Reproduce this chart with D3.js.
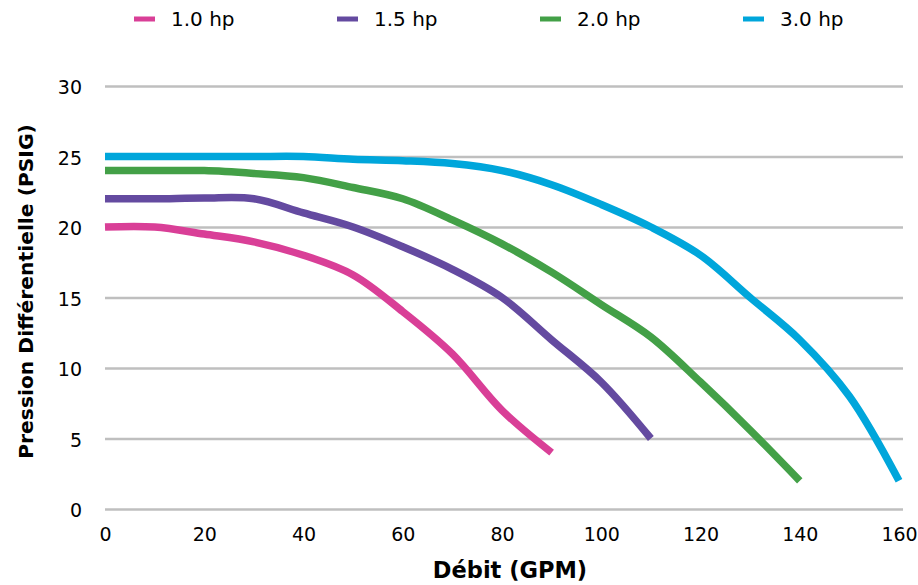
<!DOCTYPE html>
<html><head><meta charset="utf-8">
<script src="https://cdn.jsdelivr.net/npm/d3@7"></script>
<style>html,body{margin:0;padding:0;background:#fff;}svg{display:block;}</style>
</head><body>
<svg id="chart" width="918" height="585"></svg>
<script>
const seriesNames = ["1.0 hp", "1.5 hp", "2.0 hp", "3.0 hp"];
const seriesColors = ["#D93F97", "#644AA0", "#43A047", "#00A6DB"];
const flow10 = [0, 10, 20, 30, 40, 50, 60, 70, 80, 90];
const pressure10 = [20, 20, 19.5, 18.95, 18, 16.6, 14, 11, 7, 4];
const flow15 = [0, 10, 20, 30, 40, 50, 60, 70, 80, 90, 100, 110];
const pressure15 = [22, 22, 22.05, 22, 21, 20, 18.6, 17, 15, 12, 9, 5];
const flow20 = [0, 10, 20, 30, 40, 50, 60, 70, 80, 90, 100, 110, 120, 130, 140];
const pressure20 = [24, 24, 24, 23.8, 23.5, 22.8, 22, 20.5, 18.8, 16.8, 14.5, 12.2, 9, 5.6, 2];
const flow30 = [0, 10, 20, 30, 40, 50, 60, 70, 80, 90, 100, 110, 120, 130, 140, 150, 160];
const pressure30 = [25, 25, 25, 25, 25, 24.8, 24.7, 24.5, 24, 23, 21.6, 20, 18, 15, 12, 8, 2];
const xTicks = [0, 20, 40, 60, 80, 100, 120, 140, 160];
const yTicks = [0, 5, 10, 15, 20, 25, 30];
const xTitle = "Débit (GPM)";
const yTitle = "Pression Différentielle (PSIG)";

const flows = [flow10, flow15, flow20, flow30];
const pressures = [pressure10, pressure15, pressure20, pressure30];
const series = seriesNames.map((n, i) => ({name: n, color: seriesColors[i],
  pts: flows[i].map((f, j) => [f, pressures[i][j]])}));

const svg = d3.select("#chart");
const L = 105, R = 899, T = 86, B = 509;
const x = d3.scaleLinear().domain([0, 160]).range([L, R]);
const y = d3.scaleLinear().domain([0, 30]).range([B, T]);
const tickFont = "'DejaVu Sans', Verdana, sans-serif";

// gridlines + y tick labels
const gy = svg.append("g").attr("transform", `translate(${L},0)`)
  .call(d3.axisLeft(y).tickValues(yTicks).tickSize(-(R - L + 4)).tickPadding(22).tickFormat(d3.format("d")));
gy.select(".domain").remove();
gy.selectAll(".tick line").attr("stroke", "#BFBFBF").attr("stroke-width", 2.5);
gy.selectAll(".tick text").attr("x", -23).attr("dy", "0.4em").attr("text-anchor", "end")
  .attr("font-family", tickFont).attr("font-size", 19).attr("fill", "#000");

const gx = svg.append("g").attr("transform", `translate(0,${B})`)
  .call(d3.axisBottom(x).tickValues(xTicks).tickSize(0).tickPadding(17).tickFormat(d3.format("d")));
gx.select(".domain").remove();
gx.selectAll(".tick text").attr("y", 32).attr("dy", 0)
  .attr("font-family", tickFont).attr("font-size", 19).attr("fill", "#000");

// lines
const line = d3.line().x(d => x(d[0])).y(d => y(d[1])).curve(d3.curveCatmullRom.alpha(0.5));
svg.append("g").selectAll("path").data(series).join("path")
  .attr("d", d => line(d.pts)).attr("fill", "none")
  .attr("stroke", d => d.color).attr("stroke-width", 7.5).attr("stroke-linejoin", "round");

// axis titles
svg.append("text").attr("x", 510).attr("y", 578).attr("text-anchor", "middle")
  .attr("font-family", "'DejaVu Sans', Verdana, sans-serif").attr("font-weight", "bold")
  .attr("font-size", 22.5).text(xTitle);
svg.append("text").attr("transform", `translate(33,291.5) rotate(-90)`)
  .attr("text-anchor", "middle")
  .attr("font-family", "'DejaVu Sans', Verdana, sans-serif").attr("font-weight", "bold")
  .attr("font-size", 20.3).text(yTitle);

// legend
const lg = svg.append("g").selectAll("g").data(series).join("g")
  .attr("transform", (d, i) => `translate(${134 + i * 203},0)`);
lg.append("line").attr("x1", 0).attr("x2", 21).attr("y1", 19).attr("y2", 19)
  .attr("stroke", d => d.color).attr("stroke-width", 5);
lg.append("text").attr("x", 37).attr("y", 26).attr("font-family", tickFont)
  .attr("font-size", 20).attr("fill", "#000").text(d => d.name);
</script>
</body></html>
